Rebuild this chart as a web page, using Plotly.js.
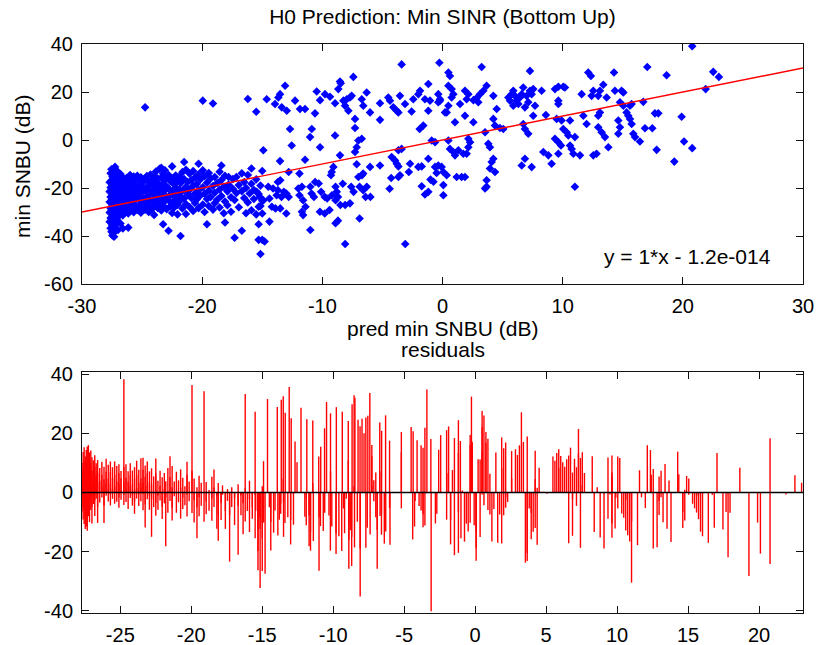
<!DOCTYPE html>
<html>
<head>
<meta charset="utf-8">
<script src="https://cdn.plot.ly/plotly-3.0.1.min.js"></script>
<style>html,body{margin:0;padding:0;background:#fff;}#chart{width:817px;height:645px;}</style>
</head>
<body>
<div id="chart"></div>
<script>
// ---------------- DATA ----------------
const chartTitle = 'H0 Prediction: Min SINR (Bottom Up)';
const xLabel = 'pred min SNBU (dB)';
const yLabel = 'min SNBU (dB)';
const residTitle = 'residuals';
const fitText = 'y = 1*x - 1.2e-014';
const fitSlope = 1;
const fitIntercept = -1.2e-14;
const fitX = [-30, 30];

const topXTicks = [-30, -20, -10, 0, 10, 20, 30];
const topXTickText = ['-30', '-20', '-10', '0', '10', '20', '30'];
const topYTicks = [-60, -40, -20, 0, 20, 40];
const topYTickText = ['-60', '-40', '-20', '0', '20', '40'];
const botXTicks = [-25, -20, -15, -10, -5, 0, 5, 10, 15, 20];
const botXTickText = ['-25', '-20', '-15', '-10', '-5', '0', '5', '10', '15', '20'];
const botYTicks = [-40, -20, 0, 20, 40];
const botYTickText = ['-40', '-20', '0', '20', '40'];

// dense cluster at low predicted values: [pred x, [measured y ...]]
const clusterCols = [
[-27.70, [-21.5, -25.8, -30.2, -17.6, -34.1]],
[-27.62, [-13.9, -19.8, -23.7, -28.4, -32.5, -36.8]],
[-27.55, [-12.2, -16.9, -21.3, -25.1, -29.6, -33.4, -38.2]],
[-27.47, [-15.3, -19.1, -23.4, -27.2, -31.0, -35.6, -39.8]],
[-27.40, [-13.0, -17.8, -22.1, -26.3, -29.9, -34.2, -38.9]],
[-27.33, [-11.8, -16.2, -20.4, -24.0, -28.1, -32.3, -36.1, -40.3]],
[-27.25, [-11.2, -14.8, -19.0, -23.1, -27.5, -31.2, -35.3]],
[-27.17, [-13.6, -18.3, -22.4, -25.8, -30.4, -37.2]],
[-27.08, [-12.9, -17.2, -21.0, -24.9, -28.8, -33.0]],
[-27.00, [-15.1, -19.7, -23.8, -27.9, -31.9, -37.5]],
[-26.90, [-16.0, -19.2, -22.9, -26.6, -30.8]],
[-26.80, [-14.2, -18.1, -21.8, -25.7, -29.5, -34.8]],
[-26.70, [-16.8, -20.9, -24.6, -28.7]],
[-26.60, [-15.6, -19.9, -23.2, -27.0, -31.4, -36.9]],
[-26.45, [-18.2, -22.5, -26.1, -29.8]],
[-26.30, [-15.9, -20.3, -24.4, -28.0]],
[-26.15, [-17.4, -21.7, -25.3, -30.6, -36.5]],
[-26.00, [-14.6, -19.0, -23.0, -27.1]],
[-25.85, [-16.5, -21.1, -24.8, -28.9]],
[-25.70, [-15.2, -18.8, -22.7, -26.4, -30.1]],
[-25.55, [-17.0, -20.6, -24.1, -27.7]],
[-25.40, [-14.9, -19.4, -23.3, -29.2]],
[-25.25, [-16.3, -21.5, -25.0, -28.4]],
[-25.10, [-15.5, -18.6, -22.2, -26.8, -30.3]],
[-24.95, [-17.7, -20.1, -24.2, -27.4]],
[-24.75, [13.6, -16.1, -21.2, -25.5, -29.0]],
[-24.60, [-15.0, -19.6, -23.6, -27.8]],
[-24.45, [-17.3, -20.8, -24.7, -30.0]],
[-24.30, [-14.4, -18.5, -22.0, -26.2]],
[-24.15, [-16.7, -21.4, -25.2, -28.6]],
[-24.00, [-15.4, -19.3, -23.0, -27.0, -31.2]],
[-23.85, [-13.1, -17.9, -22.3, -25.9]],
[-23.70, [-16.0, -20.5, -24.5, -28.3]],
[-23.55, [-12.0, -18.7, -21.9, -26.5]],
[-23.40, [-11.6, -15.7, -20.0, -23.9, -29.4]],
[-23.25, [-14.1, -18.0, -22.6, -27.3, -35.1]],
[-23.10, [-12.6, -16.6, -21.0, -25.4]],
[-22.95, [-15.8, -19.5, -24.0, -28.8]],
[-22.80, [-14.6, -20.2, -25.1, -37.8]],
[-22.65, [-17.2, -22.8, -27.6]],
[-22.50, [-11.0, -16.0, -21.6, -26.0, -30.4]],
[-22.35, [-18.4, -23.4, -28.2]],
[-22.20, [-14.8, -19.8, -24.9]],
[-22.05, [-16.9, -22.0, -27.0, -31.0]],
[-21.90, [-15.3, -20.7, -25.6]],
[-21.80, [-40.0, -18.0, -23.5]],
[-21.65, [-13.4, -21.2, -28.5]],
[-21.50, [-9.2, -16.3, -24.4]],
[-21.35, [-12.4, -19.6, -26.7, -30.8]],
[-21.20, [-17.5, -22.5]],
[-21.05, [-14.0, -20.8, -27.9]],
[-20.90, [-16.8, -24.2]],
[-20.75, [-12.9, -19.1, -29.6]],
[-20.60, [-15.6, -22.3, -26.2]],
[-20.45, [-18.3, -24.8]],
[-20.30, [-9.9, -14.3, -21.0, -28.4]],
[-20.15, [-16.4, -23.1]],
[-19.95, [16.4, -12.6, -19.7, -26.9]],
[-19.80, [-15.1, -22.4, -30.0]],
[-19.60, [-35.1, -17.8, -24.6]],
[-19.45, [-13.8, -21.1, -27.5]],
[-19.30, [-16.0, -23.8]],
[-19.10, [15.2, -19.2, -29.0]],
[-18.95, [-15.4, -22.0, -26.3]],
[-18.75, [-17.9, -24.9]],
[-18.55, [-13.2, -20.6, -28.1]],
[-18.40, [-10.6, -16.7, -23.3]],
[-18.20, [-19.5, -30.5]],
[-18.10, [-34.4, -14.9, -25.6]],
[-17.90, [-21.4, -27.2]],
[-17.80, [-15.4, -18.6]],
[-17.60, [-23.9, -29.9]],
[-17.45, [-16.3, -20.3]],
[-17.30, [-40.7, -25.0]],
[-17.15, [-15.4, -22.1]],
[-16.95, [-18.8, -28.0]],
[-16.70, [-37.8, -21.3, -13.9]],
[-16.50, [-24.2, -17.5]],
[-16.35, [-30.5, -20.0]],
[-16.20, [17.1, -14.6, -26.0]],
[-16.05, [-22.3]],
[-15.90, [-11.9, -18.2, -29.3]],
[-15.70, [-24.6, -20.8]],
[-15.50, [11.8, -16.4, -31.0]],
[-15.30, [-41.6, -22.5, -35.1]],
[-15.15, [-47.5, -19.0, -27.5]],
[-15.00, [-12.9, -25.3]]
];

// middle range, points above the fit line: [pred x, measured y]
const midUpper = [
[-3.40, 31.5], [-0.26, 32.2], [-7.42, 26.3], [-13.10, 22.6], [-8.53, 24.4], [-8.67, 21.2],
[-10.47, 20.2], [-9.78, 19.1], [-9.36, 18.0], [-13.52, 19.1], [-13.66, 17.7], [-14.63, 17.0],
[-13.94, 15.0], [-13.38, 13.6], [-12.96, 12.2], [-12.27, 16.4], [-11.86, 12.9], [-11.44, 12.9],
[-10.61, 11.1], [-10.19, 16.6], [-8.94, 15.3], [-8.25, 16.4], [-7.97, 17.0], [-7.70, 17.7],
[-7.56, 18.4], [-8.11, 14.3], [-7.83, 12.2], [-6.72, 17.0], [-6.59, 14.3], [-6.03, 11.5],
[-6.31, 19.8], [-5.20, 15.3], [-5.20, 8.4], [-4.51, 17.7], [-4.37, 16.4], [-4.09, 13.6],
[-3.81, 12.2], [-3.67, 11.5], [-3.54, 18.4], [-3.12, 15.0], [-2.57, 11.9], [-2.43, 17.0],
[-2.01, 19.1], [-1.87, 20.5], [-1.18, 23.3], [-1.46, 17.0], [-1.04, 16.4], [-0.35, 19.1],
[-0.21, 16.4], [-1.18, 12.2], [0.21, 11.5], [-12.69, 4.6], [-10.88, 4.6], [-11.02, 1.2],
[-8.94, 1.9], [-7.28, 5.0], [-7.28, 8.8], [-1.90, 4.6], [-1.60, 6.0], [-8.47, 23.6]
];

// middle range, points near or below the fit line
const midLower = [
[-12.55, -2.3], [-14.91, -4.3], [-10.19, -3.0], [-7.00, -0.2], [-6.72, 0.5], [-7.14, -3.0],
[-7.28, -5.0], [-8.53, -6.4], [-13.52, -8.8], [-11.44, -8.2], [-9.08, -11.2], [-9.22, -13.3],
[-9.28, -14.7], [-7.14, -10.1], [-6.03, -11.2], [-5.20, -10.6], [-4.23, -7.1], [-3.95, -8.5],
[-3.81, -9.9], [-3.67, -11.0], [-3.40, -3.7], [-3.67, -4.3], [-2.70, -9.9], [-2.01, -11.2],
[-1.73, -11.0], [-1.18, -7.8], [-0.62, -11.2], [-0.49, -13.7], [-0.90, -0.2], [-3.54, -14.7],
[-3.67, -15.4], [-1.73, -19.3], [-1.18, -21.6], [-1.46, -22.7], [0.07, -18.8],
[-15.46, -21.6], [-15.2, -23.7], [-14.9, -25.1], [-15.3, -27.8], [-15.0, -30.6], [-14.5, -19.5],
[-14.1, -20.2], [-13.7, -20.9], [-13.2, -21.6], [-13.0, -22.3], [-13.8, -23.0], [-13.4, -23.7],
[-12.8, -23.7], [-14.4, -24.4], [-13.7, -17.5], [-13.5, -16.8], [-12.8, -13.3], [-11.9, -14.0],
[-11.7, -19.5], [-14.2, -27.8], [-13.9, -28.5], [-13.5, -28.5], [-13.0, -30.6], [-14.4, -34.0],
[-15.0, -41.6], [-14.8, -42.3], [-12.0, -20.2], [-11.9, -23.0], [-11.6, -25.1], [-11.4, -27.8],
[-11.7, -29.9], [-11.6, -31.3], [-11.0, -37.5], [-11.0, -19.5], [-10.9, -22.3], [-10.7, -23.7],
[-10.6, -17.5], [-10.3, -18.1], [-10.1, -21.6], [-9.8, -23.7], [-9.6, -24.4], [-10.2, -29.9],
[-9.8, -30.6], [-9.4, -29.2], [-8.9, -19.5], [-8.8, -21.6], [-9.2, -23.0], [-8.7, -23.7],
[-8.9, -25.1], [-8.5, -27.1], [-8.9, -34.7], [-8.7, -33.6], [-8.3, -18.2], [-8.1, -27.1],
[-7.7, -26.4], [-7.6, -19.5], [-7.4, -21.6], [-8.1, -43.3], [-7.0, -15.4], [-6.7, -14.7],
[-6.6, -14.0], [-6.9, -19.5], [-6.6, -20.9], [-6.4, -23.7], [-6.3, -19.5], [-6.0, -23.7],
[-6.9, -32.7], [-4.4, -20.3], [-4.27, -15.8], [-3.1, -43.3], [-2.8, -13.3], [-1.0, -16.5],
[-0.75, -17.4]
];

// positive predicted range
const rightPts = [
[3.26, 30.4], [7.28, 28.8], [12.13, 28.1], [12.35, 26.7], [14.27, 28.1], [0.49, 28.1],
[0.62, 26.7], [0.49, 22.6], [0.76, 21.2], [0.90, 19.1], [0.76, 17.7], [-0.21, 17.0],
[-0.35, 15.7], [0.35, 11.5], [0.49, 14.3], [1.46, 15.0], [1.87, 20.5], [2.15, 19.1],
[2.01, 17.0], [2.57, 16.6], [2.84, 17.5], [2.98, 15.7], [3.12, 19.1], [3.67, 22.6],
[3.40, 20.5], [1.04, 7.4], [1.87, 10.1], [2.57, 7.4], [4.23, 18.4], [4.51, 12.9],
[4.23, 8.8], [4.37, 6.0], [5.06, 4.6], [4.78, 5.0], [5.48, 17.7], [5.75, 19.1],
[5.89, 20.5], [6.03, 18.4], [5.62, 16.4], [5.89, 14.3], [6.17, 16.4], [6.45, 17.7],
[6.59, 19.1], [6.72, 21.9], [7.00, 18.4], [7.28, 20.5], [7.42, 19.1], [7.55, 21.2],
[7.14, 15.7], [7.70, 14.3], [6.86, 13.6], [6.31, 15.0], [8.25, 20.5], [7.55, 10.1],
[6.72, 6.7], [6.86, 4.6], [7.14, 2.6], [9.36, 21.2], [9.64, 22.2], [10.05, 22.2],
[10.19, 21.9], [9.64, 16.4], [9.64, 15.0], [9.50, 8.8], [9.91, 8.1], [10.61, 8.1],
[11.58, 19.1], [12.55, 20.5], [12.41, 18.4], [11.72, 10.1], [11.99, 6.7], [13.38, 23.0],
[13.10, 20.5], [12.96, 18.4], [13.66, 17.7], [13.10, 11.5], [12.96, 10.1], [14.35, 20.5],
[14.77, 15.7], [12.96, 5.3], [13.24, 3.2], [13.52, 1.2], [13.80, -3.0], [12.82, -5.7],
[12.55, -6.4], [11.44, -6.4], [10.61, -2.3], [10.75, -3.7], [10.89, -5.7], [10.05, 4.6],
[10.33, 3.2], [10.47, 1.9], [11.02, 1.2], [9.36, 0.5], [9.64, -0.9], [9.86, -2.3],
[8.39, -5.0], [8.81, -6.4], [9.08, -9.9], [9.64, -5.7], [6.59, -10.6], [6.86, -7.8],
[7.42, -11.3], [11.02, -19.5], [8.60, 10.4], [-0.62, -0.9], [0.49, -0.2], [0.62, -3.7],
[0.90, -5.0], [1.04, -6.4], [1.32, -4.3], [1.73, -5.7], [2.01, -5.7], [2.15, -3.0],
[2.15, 0.5], [2.29, -0.9], [-0.35, -10.6], [-0.07, -11.2], [0.07, -13.3], [0.35, -14.7],
[1.18, -15.4], [1.59, -15.4], [1.87, -15.4], [0.07, -23.0], [3.54, 3.2], [3.81, -1.6],
[3.95, -3.0], [4.23, -7.8], [4.09, -9.2], [3.95, -11.9], [4.37, -13.3], [3.67, -16.8],
[3.67, -19.5], [3.54, -20.2],
[20.78, 39.1], [17.04, 30.4], [18.65, 27.0], [22.53, 28.4], [23.00, 26.3], [21.90, 21.2],
[14.90, 20.5], [15.05, 19.8], [15.05, 14.3], [15.60, 14.3], [15.74, 15.0], [16.71, 15.9],
[15.32, 11.5], [15.46, 10.1], [15.60, 8.8], [15.74, 6.7], [14.63, 8.1], [14.77, 5.3],
[14.63, 2.6], [15.88, 2.6], [16.02, 1.2], [16.43, -0.6], [16.85, 4.9], [17.46, 4.9],
[17.68, 11.1], [17.96, 11.1], [17.82, -4.1], [19.29, -9.0], [19.90, 9.7], [20.10, -0.6],
[20.78, -3.4]
];

// ---------------- BUILD ----------------
const predX = [], measY = [];
clusterCols.forEach(c => c[1].forEach(y => { predX.push(c[0]); measY.push(y); }));
[midUpper, midLower, rightPts].forEach(arr => arr.forEach(p => { predX.push(p[0]); measY.push(p[1]); }));
const resid = measY.map((y, i) => y - predX[i]);

const stemX = [], stemY = [];
predX.forEach((x, i) => { stemX.push(x, x, null); stemY.push(0, resid[i], null); });

const fitY = fitX.map(x => fitSlope * x + fitIntercept);

const FONT = '"Liberation Sans", Arial, Helvetica, sans-serif';
const axBase = {
  showline: true, linecolor: '#111', linewidth: 1, mirror: 'ticks',
  ticks: 'inside', ticklen: 7, tickwidth: 1, tickcolor: '#111',
  showgrid: false, zeroline: false, tickmode: 'array',
  tickfont: {family: FONT, size: 20, color: '#000'}
};

const traces = [
  {x: predX, y: measY, type: 'scatter', mode: 'markers', xaxis: 'x', yaxis: 'y',
   marker: {symbol: 'diamond', size: 6.6, color: '#0000ff', line: {width: 0}}, hoverinfo: 'skip'},
  {x: fitX, y: fitY, type: 'scatter', mode: 'lines', xaxis: 'x', yaxis: 'y',
   line: {color: '#ff0000', width: 1.4}, hoverinfo: 'skip'},
  {x: stemX, y: stemY, type: 'scatter', mode: 'lines', xaxis: 'x2', yaxis: 'y2',
   line: {color: '#ff0000', width: 1.4}, connectgaps: false, hoverinfo: 'skip'}
];

const layout = {
  width: 817, height: 645,
  margin: {l: 82, r: 14, t: 44, b: 32},
  paper_bgcolor: '#fff', plot_bgcolor: '#fff',
  showlegend: false,
  title: {text: chartTitle, font: {family: FONT, size: 21, color: '#000'},
          x: 0.5, xref: 'paper', xanchor: 'center', y: 1 - 17/645, yref: 'container', yanchor: 'middle'},
  xaxis: Object.assign({}, axBase, {domain: [0, 1], anchor: 'y', range: [-30, 30],
          tickvals: topXTicks, ticktext: topXTickText, ticklabelstandoff: 4}),
  yaxis: Object.assign({}, axBase, {domain: [0.5782, 1], anchor: 'x', range: [-60, 40],
          tickvals: topYTicks, ticktext: topYTickText, ticklabelstandoff: 4}),
  xaxis2: Object.assign({}, axBase, {domain: [0, 1], anchor: 'y2', range: [-27.7, 23.1],
          tickvals: botXTicks, ticktext: botXTickText, ticklabelstandoff: 4}),
  yaxis2: Object.assign({}, axBase, {domain: [0, 0.4236], anchor: 'x2', range: [-40.8, 40.8],
          tickvals: botYTicks, ticktext: botYTickText, ticklabelstandoff: 4}),
  shapes: [
    {type: 'line', xref: 'x2 domain', yref: 'y2', x0: 0, x1: 1, y0: 0, y1: 0,
     line: {color: '#000', width: 1.3}, layer: 'above'}
  ],
  annotations: [
    {text: xLabel, xref: 'paper', yref: 'paper', x: 0.5, y: (613 - 328) / 569,
     xanchor: 'center', yanchor: 'middle', showarrow: false, font: {family: FONT, size: 21, color: '#000'}},
    {text: residTitle, xref: 'paper', yref: 'paper', x: 0.5, y: (613 - 349) / 569,
     xanchor: 'center', yanchor: 'middle', showarrow: false, font: {family: FONT, size: 21, color: '#000'}},
    {text: yLabel, xref: 'paper', yref: 'paper', x: (22 - 82) / 721, y: (613 - 166) / 569,
     xanchor: 'center', yanchor: 'middle', textangle: -90, showarrow: false, font: {family: FONT, size: 21, color: '#000'}},
    {text: fitText, xref: 'x', yref: 'y', x: 20.4, y: -48.6, xanchor: 'center', yanchor: 'middle',
     showarrow: false, font: {family: FONT, size: 21, color: '#000'}}
  ]
};

Plotly.newPlot('chart', traces, layout, {staticPlot: true, displayModeBar: false});
</script>
</body>
</html>
